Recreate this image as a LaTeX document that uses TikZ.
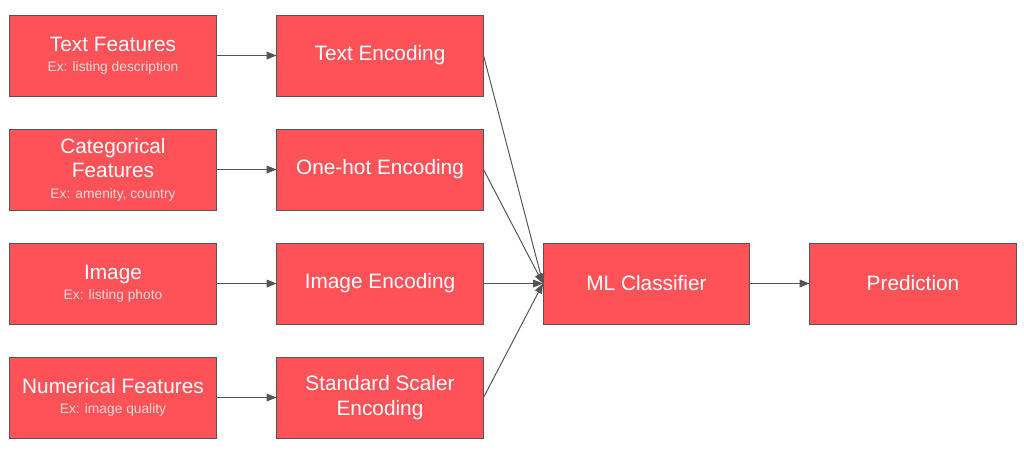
\documentclass[tikz,border=0pt]{standalone}
\usepackage{fontspec}
\setmainfont{Liberation Sans}
\usetikzlibrary{arrows.meta}
\definecolor{boxred}{RGB}{252,82,88}
\definecolor{boxline}{RGB}{85,85,85}
\definecolor{subtext}{RGB}{255,215,215}
\tikzset{
  box/.style={draw=boxline, fill=boxred, text=white, line width=0.7pt,
    minimum width=5.15cm, minimum height=2.025cm, align=center,
    inner sep=2pt, font=\fontsize{14.8}{17.5}\selectfont},
  link/.style={draw=boxline, line width=0.7pt, -{Triangle[length=7pt,width=5.5pt]}}
}
\newcommand{\ex}[1]{\\[-3pt]{\color{subtext}\fontsize{9.8}{11}\selectfont #1}}
\begin{document}
\begin{tikzpicture}[x=0.025cm,y=-0.025cm]
\useasboundingbox (0,0) rectangle (1024,455);
	%inputs
	\node[box] (text)  at (113,55.5)  {Text Features\ex{Ex: listing description}};
	\node[box] (cat)   at (113,169.5) {Categorical\\Features\ex{Ex: amenity, country}};
	\node[box] (img)   at (113,283.5) {Image\ex{Ex: listing photo}};
	\node[box] (num)   at (113,397.5) {Numerical Features\ex{Ex: image quality}};
	%encodings
	\node[box] (textenc) at (380,55.5)  {Text Encoding};
	\node[box] (onehot)  at (380,169.5) {One-hot Encoding};
	\node[box] (imgenc)  at (380,283.5) {Image Encoding};
	\node[box] (scaler)  at (380,397.5) {Standard Scaler\\Encoding};
	%model
	\node[box] (clf)  at (646.5,283.5) {ML Classifier};
	\node[box] (pred) at (913,283.5)   {Prediction};
%arrows
\draw[link] (text) -- (textenc);
\draw[link] (cat) -- (onehot);
\draw[link] (img) -- (imgenc);
\draw[link] (num) -- (scaler);
\foreach \n in {textenc,onehot,imgenc,scaler}
	\draw[link] (\n.east) -- (clf.west);
\draw[link] (clf) -- (pred);
\end{tikzpicture}
\end{document}
